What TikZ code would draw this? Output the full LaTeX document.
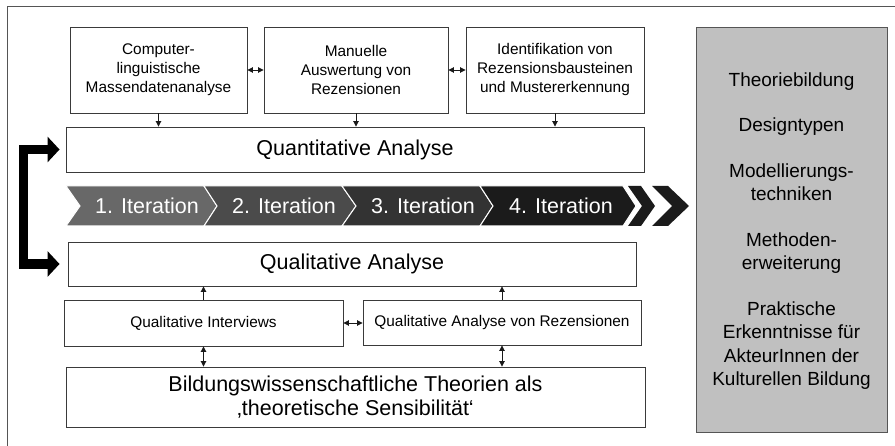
\documentclass[tikz,border=0pt]{standalone}
\usepackage{fontspec}
\setmainfont{Liberation Sans}
\usetikzlibrary{arrows.meta}
\definecolor{edge}{HTML}{3A3A3A}
\definecolor{frame}{HTML}{555555}
\definecolor{panelfill}{HTML}{C0C0C0}
\definecolor{chA}{HTML}{686868}
\definecolor{chB}{HTML}{4B4B4B}
\definecolor{chC}{HTML}{333333}
\definecolor{chD}{HTML}{1B1B1B}
\newcommand{\bigtxt}{\fontsize{21.5}{23.5}\selectfont}
\newcommand{\smalltxt}{\fontsize{15.4}{19}\selectfont}
\newcommand{\paneltxt}{\fontsize{19}{23.5}\selectfont}
\begin{document}
\begin{tikzpicture}[x=1pt,y=-1pt,
  box/.style={draw=edge, line width=0.9pt, fill=white, inner sep=0pt, align=center},
  smallbox/.style={box, font=\smalltxt},
  bigbox/.style={box, font=\bigtxt},
  itx/.style={text=white, font=\bigtxt, inner sep=0pt},
  link/.style={draw=black!90, line width=0.9pt, ->, >={Triangle[length=5.5pt,width=5.5pt]}},
  dlink/.style={draw=black!90, line width=0.9pt, <->, >={Triangle[length=5.5pt,width=5.5pt]}},
  loop/.style={draw=black, line width=9.5pt, line join=miter,
    {Triangle[length=12pt,width=25pt]}-{Triangle[length=12pt,width=25pt]}},
  panel/.style={draw=frame, line width=0.9pt, fill=panelfill}]
\useasboundingbox (0,0) rectangle (895,446);
\fill[white] (0,0) rectangle (895,446);
% outer frame (left and top edges)
\draw[frame, line width=1pt] (7,446) -- (7,7) -- (895,7);

% upper row of methods
\node[smallbox, minimum width=177pt, minimum height=86pt] (cl) at (158.5,70)
  {Computer-\\linguistische\\Massendatenanalyse};
\node[smallbox, minimum width=184pt, minimum height=86pt] (ma) at (356,70)
  {Manuelle\\Auswertung von\\Rezensionen};
\node[smallbox, minimum width=178pt, minimum height=86pt] (id) at (555,70)
  {Identifikation von\\Rezensionsbausteinen\\und Mustererkennung};

% quantitative analysis
\node[bigbox, minimum width=578pt, minimum height=45pt] (quant) at (355,149.5)
  {Quantitative Analyse};

\draw[dlink] (cl.east) -- (ma.west);
\draw[dlink] (ma.east) -- (id.west);
\draw[link] (cl.south) -- (cl.south |- quant.north);
\draw[link] (ma.south) -- (ma.south |- quant.north);
\draw[link] (id.south) -- (id.south |- quant.north);

% iteration band
\filldraw[fill=chA, draw=white, line width=1pt]
  (66,186) -- (204,186) -- (217,206) -- (204,226) -- (66,226) -- (80,206) -- cycle;
\filldraw[fill=chB, draw=white, line width=1pt]
  (204,186) -- (342,186) -- (356,206) -- (342,226) -- (204,226) -- (217,206) -- cycle;
\filldraw[fill=chC, draw=white, line width=1pt]
  (342,186) -- (480,186) -- (493,206) -- (480,226) -- (342,226) -- (356,206) -- cycle;
\filldraw[fill=chD, draw=white, line width=1pt]
  (480,186) -- (623,186) -- (636,206) -- (623,226) -- (480,226) -- (493,206) -- cycle;
\fill[chD] (628,186) -- (641,186) -- (655,206) -- (641,226) -- (628,226) -- (642,206) -- cycle;
\fill[chD] (652,186) -- (668,186) -- (689,206) -- (668,226) -- (652,226) -- (672,206) -- cycle;
\node[itx] (it1) at (147,206) {1. Iteration};
\node[itx] (it2) at (284,206) {2. Iteration};
\node[itx] (it3) at (423,206) {3. Iteration};
\node[itx] (it4) at (561,206) {4. Iteration};

% qualitative analysis
\node[bigbox, minimum width=568pt, minimum height=44pt] (qual) at (352,264)
  {Qualitative Analyse};

% loop between the two analyses
\draw[loop] ([xshift=-6pt]quant.west) -- ++(-36,0) |- ([xshift=-8pt]qual.west);

% lower row of methods
\node[smallbox, minimum width=279pt, minimum height=46pt] (qi) at (203.5,323)
  {Qualitative Interviews};
\node[smallbox, minimum width=278pt, minimum height=45pt] (qr) at (502,322.5)
  {Qualitative Analyse von Rezensionen};
\node[bigbox, minimum width=579pt, minimum height=60pt] (th) at (355.5,397)
  {Bildungswissenschaftliche Theorien als\\‚theoretische Sensibilität‘};

\draw[link] (qi.north) -- (qi.north |- qual.south);
\draw[link] (qr.north) -- (qr.north |- qual.south);
\draw[dlink] (qi.east) -- (qi.east -| qr.west);
\draw[dlink] (qi.south) -- (qi.south |- th.north);
\draw[dlink] (qr.south) -- (qr.south |- th.north);

% results panel
\node[panel, minimum width=191pt, minimum height=405pt] (res) at (791.5,229.5) {};
\node[font=\paneltxt, align=center, inner sep=0pt] (restext) at (791.5,231)
  {Theoriebildung\\[22pt]
   Designtypen\\[22pt]
   Modellierungs-\\techniken\\[22pt]
   Methoden-\\erweiterung\\[22pt]
   Praktische\\Erkenntnisse für\\AkteurInnen der\\Kulturellen Bildung};
\end{tikzpicture}
\end{document}
